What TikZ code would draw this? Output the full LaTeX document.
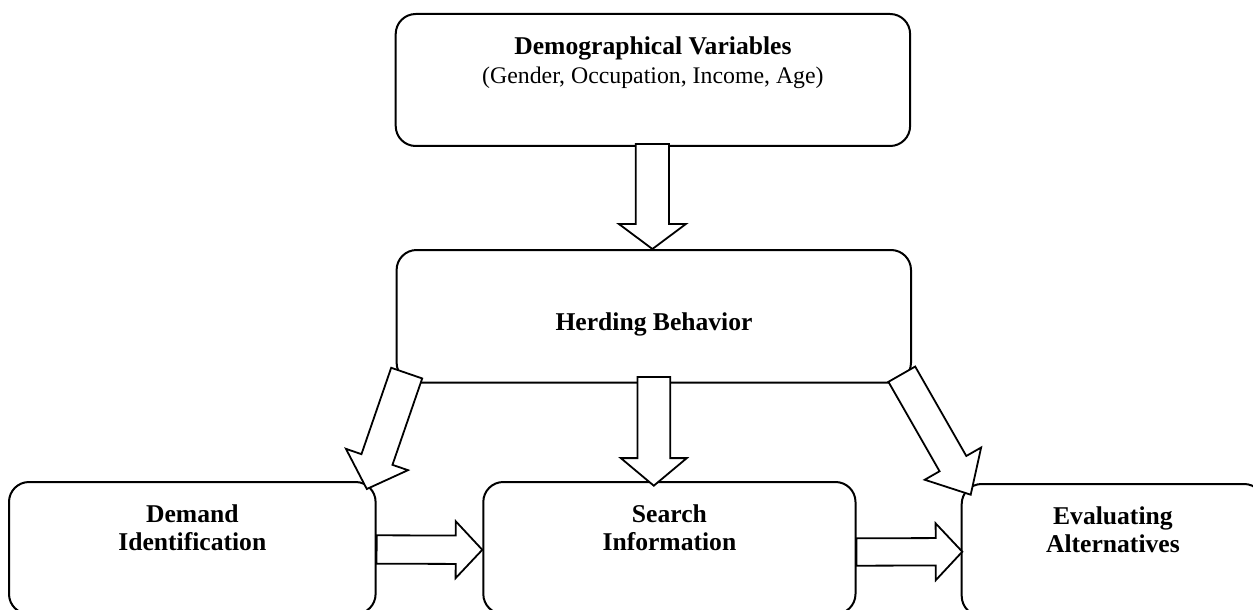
\documentclass[tikz,border=0pt]{standalone}
\usepackage{fontspec}
\setmainfont{Liberation Serif}
\usetikzlibrary{calc}
\tikzset{
  box/.style={draw, line width=1pt, rounded corners=10pt, inner sep=0pt},
  barrow/.style={draw, line width=0.9pt, fill=white, line join=miter},
  ttl/.style={font=\fontsize{12.8}{14}\selectfont\bfseries, inner sep=0pt, anchor=base},
  subt/.style={font=\fontsize{11.9}{14}\selectfont, inner sep=0pt, anchor=base},
}
% #1 name, #2 start, #3 tip, #4 shaft half width, #5 head half width, #6 head length
\newcommand\blockarr[6]{%
  \coordinate (#1-h) at ($(#3)!#6!(#2)$);
  \draw[barrow] ($(#2)!#4!90:(#3)$) -- ($(#1-h)!#4!90:(#3)$) -- ($(#1-h)!#5!90:(#3)$)
     -- (#3) -- ($(#1-h)!#5!-90:(#3)$) -- ($(#1-h)!#4!-90:(#3)$) -- ($(#2)!#4!-90:(#3)$) -- cycle;}
\begin{document}
\begin{tikzpicture}[x=0.5pt,y=-0.5pt]
\useasboundingbox (0,0) rectangle (1253,610);
\clip (0,0) rectangle (1253,610);
% boxes
\node[box, minimum width=257.2pt, minimum height=66pt] (demo) at (652.9,80) {};
\node[box, minimum width=257.2pt, minimum height=66.3pt] (herd) at (653.8,316.3) {};
\node[box, minimum width=183.3pt, minimum height=66pt] (dem) at (192.3,548) {};
\node[box, minimum width=186.1pt, minimum height=66pt] (sea) at (669.4,548) {};
\node[box, minimum width=151.2pt, minimum height=66pt] (eva) at (1112.9,550) {};
% texts
\node[ttl] (demo-t1) at (652.9,55) {Demographical Variables};
\node[subt] (demo-t2) at (652.9,84) {(Gender, Occupation, Income, Age)};
\node[ttl] (herd-t) at (654,330) {Herding Behavior};
\node[ttl] (dem-t1) at (192.3,522.7) {Demand};
\node[ttl] (dem-t2) at (192.3,550.7) {Identification};
\node[ttl] (sea-t1) at (669.4,522.7) {Search};
\node[ttl] (sea-t2) at (669.4,550.7) {Information};
\node[ttl] (eva-t1) at (1112.9,524) {Evaluating};
\node[ttl] (eva-t2) at (1112.9,552.3) {Alternatives};
% connector end points
\coordinate (a1s) at ($(demo.south)+(-0.5,-3)$);
\coordinate (a1e) at (a1s |- herd.north);
\coordinate (a2s) at ($(herd.south)+(0,-6.7)$);
\coordinate (a2e) at ($(herd.south |- sea.north)+(0,4.7)$);
\coordinate (a3s) at ($(herd.south west)+(11.1,-10.5)$);
\coordinate (a3e) at ($(dem.north east)+(-9.8,8)$);
\coordinate (a4s) at ($(herd.south east)+(-10.2,-9.4)$);
\coordinate (a4e) at ($(eva.north west)+(10,11.7)$);
\coordinate (a5s) at ($(dem.east)+(0,1.5)$);
\coordinate (a5e) at ($(sea.west)+(0,1.8)$);
\coordinate (a6s) at ($(sea.east)+(0,4)$);
\coordinate (a6e) at ($(eva.west)+(1.6,1.7)$);
% block arrows
\blockarr{a1}{a1s}{a1e}{8.3pt}{16.75pt}{12.5pt}
\blockarr{a2}{a2s}{a2e}{8.2pt}{16.5pt}{13.8pt}
\blockarr{a3}{a3s}{a3e}{8.2pt}{16.4pt}{15.6pt}
\blockarr{a4}{a4s}{a4e}{7.7pt}{16.25pt}{17.9pt}
\blockarr{a5}{a5s}{a5e}{7.1pt}{14.2pt}{13.3pt}
\blockarr{a6}{a6s}{a6e}{6.85pt}{14.2pt}{13.3pt}
\end{tikzpicture}
\end{document}
